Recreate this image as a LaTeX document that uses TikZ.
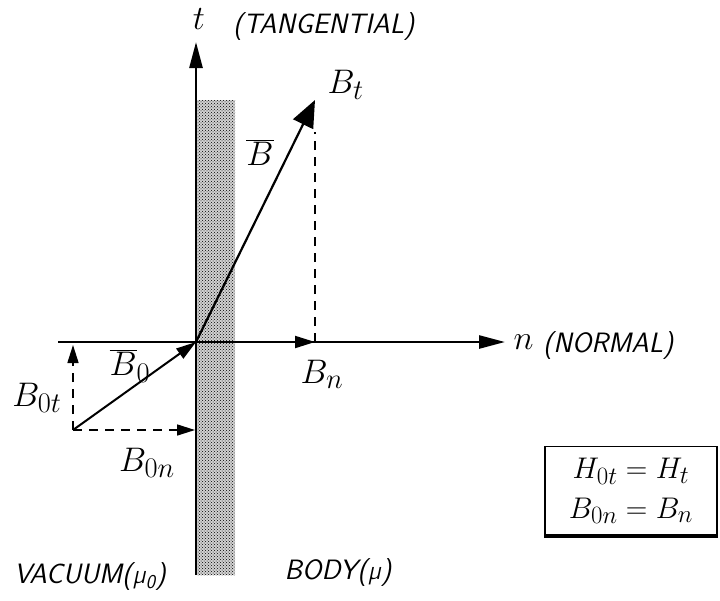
\documentclass[tikz,border=0pt]{standalone}
\usepackage{tikz}
\usetikzlibrary{arrows.meta,positioning,calc,patterns}
\tikzset{
  axis/.style={-{Triangle[length=26pt,width=13pt]}, line width=2.6pt},
  vec/.style={-{Triangle[length=27pt,width=22pt]}, line width=2.2pt},
  smallvec/.style={-{Triangle[length=20pt,width=12pt]}, line width=2pt},
  comp/.style={-{Triangle[length=18pt,width=11pt]}, line width=1.6pt, dash pattern=on 9pt off 7pt},
  lbl/.style={inner sep=1pt, font=\fontsize{24.88}{26}\selectfont, scale=1.37, transform shape},
  caps/.style={inner sep=1pt, font=\fontsize{28}{30}\selectfont\sffamily\itshape},
  box/.style={draw, line width=1.6pt, align=center, minimum width=143pt, minimum height=74pt,
    inner sep=3pt, font=\fontsize{24.88}{33}\selectfont, scale=1.2, transform shape}
}
\begin{document}
\begin{tikzpicture}[x=1pt,y=-1pt]
\useasboundingbox (0,0) rectangle (720,600);
% boundary layer of the body
\fill[gray!35] (197,100) rectangle (235,575);
\fill[pattern=crosshatch dots, pattern color=black] (197,100) rectangle (235,575);

% axes
\coordinate (O) at (196,342);
\coordinate (tbot) at (196,575);
\coordinate (ttop) at (196,42);
\coordinate (nleft) at (58,342);
\coordinate (nright) at (505,342);
\draw[line width=2.6pt] (tbot) -- (O);
\draw[axis] (O) -- (ttop);
\draw[line width=2.6pt] (nleft) -- (O);
\draw[axis] (O) -- (nright);

% field in the body
\coordinate (Btip) at (315,100);
\coordinate (Bn) at (315,342);
\coordinate (Btop) at (315,132);
\draw[vec] (O) -- (Btip);
\draw[line width=1.6pt, dash pattern=on 9pt off 7pt] (Bn) -- (Btop);
\draw[smallvec] (O) -- (Bn);
\draw[line width=1.4pt] (Bn) -- ++(0,-8);

% field in vacuum
\coordinate (Bz) at (73,430);
\coordinate (Bzt) at (73,345);
\coordinate (Bzn) at (195,430);
\draw[smallvec] (Bz) -- (O);
\draw[comp] (Bz) -- (Bzt);
\draw[comp] (Bz) -- (Bzn);

% labels
\node[lbl] (tlab) at (199,19) {$t$};
\node[caps, anchor=west] (tname) at (232,27) {(TANGENTIAL)};
\node[lbl, anchor=west] (Btlab) at (326,85) {$B_t$};
\node[lbl] (Blab) at (260,152) {$\overline{B}$};
\node[lbl] (Bnlab) at (322,374) {$B_n$};
\node[lbl, anchor=west] (nlab) at (512,342) {$n$};
\node[caps, anchor=west] (nname) at (542,346) {(NORMAL)};
\node[lbl] (B0lab) at (130,366) {$\overline{B}_0$};
\node[lbl] (B0tlab) at (37,398) {$B_{0t}$};
\node[lbl] (B0nlab) at (147,463) {$B_{0n}$};
\node[caps] (vac) at (90,577) {VACUUM(µ\textsubscript{0})};
\node[caps] (body) at (338,573) {BODY(µ)};

% boundary conditions
\node[box] (rel) at (631,491) {$H_{0t}=H_t$\\$B_{0n}=B_n$};
\draw[line width=4pt] (rel.south west) -- (rel.south east);
\end{tikzpicture}
\end{document}
